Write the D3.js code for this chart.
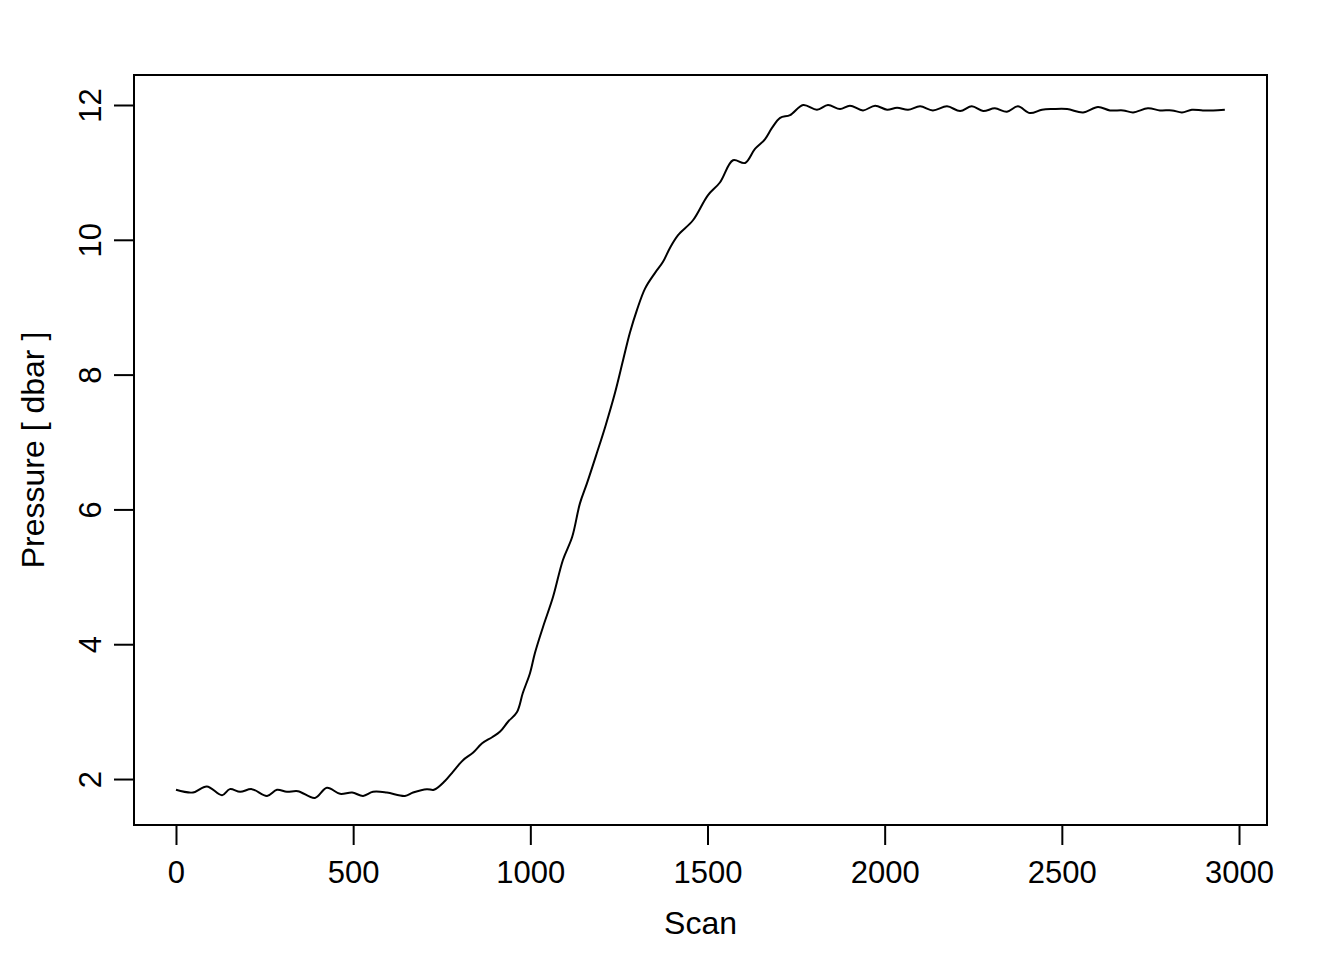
<!DOCTYPE html>
<html>
<head>
<meta charset="utf-8">
<script src="https://cdn.jsdelivr.net/npm/d3@7"></script>
<style>
	body { margin: 0; background: #fff; }
	text { font-family: "Liberation Sans", Arial, Helvetica, sans-serif; fill: #000; }
</style>
</head>
<body>
<div id="graph"></div>
<script>
// scan number and pressure [dbar]
var scan = [0, 48, 87, 130, 152, 181, 214, 257, 285, 313, 344, 392, 426, 463, 497, 528, 556, 595, 646, 669,
	708, 728, 759, 782, 810, 838, 864, 892, 914, 937, 962, 979, 999, 1013, 1036, 1064, 1092, 1118, 1140, 1160,
	1188, 1211, 1239, 1262, 1281, 1301, 1324, 1352, 1374, 1394, 1417, 1459, 1501, 1535, 1572, 1606, 1634, 1662, 1682, 1705,
	1733, 1770, 1809, 1840, 1874, 1902, 1939, 1973, 2007, 2035, 2066, 2100, 2136, 2176, 2213, 2246, 2278, 2311, 2345, 2376,
	2410, 2444, 2475, 2515, 2560, 2602, 2636, 2673, 2701, 2743, 2777, 2811, 2839, 2867, 2898, 2927, 2960];
var pressure = [1.84, 1.80, 1.89, 1.76, 1.85, 1.81, 1.85, 1.75, 1.84, 1.81, 1.82, 1.72, 1.87, 1.78, 1.80, 1.75, 1.81, 1.80, 1.75, 1.80,
	1.85, 1.84, 1.97, 2.11, 2.28, 2.39, 2.53, 2.62, 2.70, 2.85, 2.99, 3.28, 3.57, 3.87, 4.26, 4.70, 5.25, 5.59, 6.09, 6.39,
	6.84, 7.22, 7.73, 8.22, 8.62, 8.96, 9.28, 9.51, 9.67, 9.88, 10.07, 10.29, 10.66, 10.85, 11.18, 11.14, 11.35, 11.49, 11.66, 11.81,
	11.85, 12.00, 11.93, 12.00, 11.94, 11.99, 11.92, 11.99, 11.93, 11.96, 11.93, 11.98, 11.92, 11.98, 11.91, 11.98, 11.91, 11.95, 11.90, 11.98,
	11.88, 11.93, 11.94, 11.94, 11.89, 11.97, 11.92, 11.92, 11.89, 11.95, 11.92, 11.92, 11.89, 11.93, 11.92, 11.92, 11.93];

var xTicks = [0, 500, 1000, 1500, 2000, 2500, 3000];
var yTicks = [2, 4, 6, 8, 10, 12];
var xLim = [-118.5, 3079];
var yLim = [1.318, 12.445];

var w = 1344;
var h = 960;
// plot box (window.top is taken, so prefix these)
var boxL = 134, boxR = 1267, boxT = 75, boxB = 825;
var tickFont = 31;
var titleFont = 32;
var tickLen = 20;

var data = scan.map(function (s, i) {
	return {scan: s, p: pressure[i]};
});

var xScale = d3.scaleLinear()
	.domain(xLim)
	.range([boxL, boxR]);
var yScale = d3.scaleLinear()
	.domain(yLim)
	.range([boxB, boxT]);

var svg = d3.select("#graph")
	.append("svg")
	.attr("width", w)
	.attr("height", h);

// the pressure trace
var line = d3.line()
	.x(function (d) { return xScale(d.scan); })
	.y(function (d) { return yScale(d.p); })
	.curve(d3.curveCatmullRom);

svg.append("path")
	.datum(data)
	.attr("d", line)
	.attr("fill", "none")
	.attr("stroke", "#000")
	.attr("stroke-width", 2);

// box round the plot
svg.append("rect")
	.attr("x", boxL)
	.attr("y", boxT)
	.attr("width", boxR - boxL)
	.attr("height", boxB - boxT)
	.attr("fill", "none")
	.attr("stroke", "#000")
	.attr("stroke-width", 2);

// x axis
var xAxis = d3.axisBottom(xScale)
	.tickValues(xTicks)
	.tickSize(tickLen)
	.tickFormat(d3.format("d"));

var gx = svg.append("g")
	.attr("transform", "translate(0," + boxB + ")")
	.call(xAxis);
gx.select(".domain")
	.attr("d", "M" + xScale(xTicks[0]) + ",0H" + xScale(xTicks[xTicks.length - 1]))
	.attr("stroke-width", 2);
gx.selectAll(".tick line").attr("stroke-width", 2);
gx.selectAll(".tick text")
	.attr("font-size", tickFont)
	.attr("font-family", "Liberation Sans, Arial, sans-serif")
	.attr("dy", null)
	.attr("y", 58);

// y axis
var yAxis = d3.axisLeft(yScale)
	.tickValues(yTicks)
	.tickSize(tickLen)
	.tickFormat(d3.format("d"));

var gy = svg.append("g")
	.attr("transform", "translate(" + boxL + ",0)")
	.call(yAxis);
gy.select(".domain")
	.attr("d", "M0," + yScale(yTicks[0]) + "V" + yScale(yTicks[yTicks.length - 1]))
	.attr("stroke-width", 2);
gy.selectAll(".tick line").attr("stroke-width", 2);
gy.selectAll(".tick text")
	.attr("font-size", tickFont)
	.attr("font-family", "Liberation Sans, Arial, sans-serif")
	.attr("x", null)
	.attr("dy", null)
	.attr("text-anchor", "middle")
	.attr("transform", "translate(-33,0) rotate(-90)");

// axis titles
svg.append("text")
	.attr("x", (boxL + boxR) / 2)
	.attr("y", 934)
	.attr("text-anchor", "middle")
	.attr("font-size", titleFont)
	.text("Scan");

svg.append("text")
	.attr("transform", "translate(44," + (boxT + boxB) / 2 + ") rotate(-90)")
	.attr("text-anchor", "middle")
	.attr("font-size", titleFont)
	.text("Pressure [ dbar ]");
</script>
</body>
</html>
